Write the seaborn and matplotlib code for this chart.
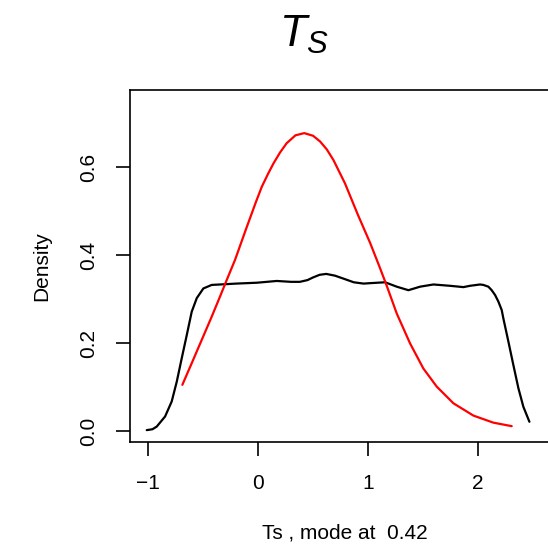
import numpy as np
import pandas as pd
import seaborn as sns
import matplotlib.pyplot as plt

# Black curve: density of Ts
black_x = [-1.012, -0.96, -0.921, -0.845, -0.785, -0.739, -0.694, -0.648, -0.603, -0.557, -0.497,
           -0.421, -0.345, -0.20, -0.01, 0.17, 0.30, 0.38, 0.45, 0.50, 0.56, 0.62, 0.70, 0.78,
           0.87, 0.96, 1.018, 1.155, 1.261, 1.367, 1.473, 1.594, 1.745, 1.867, 1.927, 2.018,
           2.048, 2.094, 2.124, 2.155, 2.185, 2.215, 2.230, 2.276, 2.321, 2.367, 2.412, 2.467]
black_y = [0.002, 0.004, 0.010, 0.033, 0.067, 0.112, 0.165, 0.218, 0.271, 0.302, 0.324,
           0.332, 0.333, 0.335, 0.337, 0.341, 0.339, 0.339, 0.343, 0.349, 0.355, 0.357, 0.353, 0.346,
           0.338, 0.335, 0.336, 0.338, 0.328, 0.320, 0.328, 0.333, 0.330, 0.327, 0.330, 0.333,
           0.332, 0.328, 0.320, 0.309, 0.294, 0.275, 0.256, 0.203, 0.150, 0.097, 0.055, 0.021]

# Red curve: reference density
red_x = [-0.688, -0.603, -0.512, -0.421, -0.345, -0.285, -0.209, -0.112, -0.02, 0.034, 0.09, 0.14,
         0.20, 0.26, 0.34, 0.42, 0.50, 0.564, 0.625, 0.685, 0.79, 0.91, 1.018, 1.10, 1.170, 1.261,
         1.382, 1.503, 1.624, 1.776, 1.958, 2.139, 2.306]
red_y = [0.105, 0.154, 0.207, 0.260, 0.306, 0.343, 0.389, 0.457, 0.520, 0.555, 0.584, 0.608,
         0.633, 0.654, 0.672, 0.677, 0.671, 0.658, 0.640, 0.616, 0.563, 0.490, 0.428, 0.376, 0.330, 0.267,
         0.199, 0.142, 0.101, 0.063, 0.035, 0.019, 0.011]

x_ticks = [-1, 0, 1, 2]
y_ticks = [0.0, 0.2, 0.4, 0.6]
y_tick_labels = ["0.0", "0.2", "0.4", "0.6"]
x_label = "Ts , mode at  0.42"
y_label = "Density"

sns.set_style("white")
plt.rcParams['font.family'] = ['Liberation Sans', 'DejaVu Sans']
plt.rcParams['mathtext.fontset'] = 'custom'
plt.rcParams['mathtext.it'] = 'Liberation Sans:italic'
plt.rcParams['mathtext.rm'] = 'Liberation Sans'
plt.rcParams['text.color'] = 'black'
plt.rcParams['axes.labelcolor'] = 'black'
plt.rcParams['xtick.color'] = 'black'
plt.rcParams['ytick.color'] = 'black'

fig = plt.figure(figsize=(5.48, 5.51), dpi=100)
ax = fig.add_axes([130/548, 109/551, 430/548, 352/551])

df_b = pd.DataFrame({"x": black_x, "y": black_y})
df_r = pd.DataFrame({"x": red_x, "y": red_y})
sns.lineplot(data=df_b, x="x", y="y", ax=ax, color="black", lw=1.6, sort=False)
sns.lineplot(data=df_r, x="x", y="y", ax=ax, color="red", lw=1.6, sort=False)

ax.set_xlim(-1.164, 2.745)
ax.set_ylim(-0.025, 0.775)
ax.set_xticks(x_ticks)
ax.set_yticks(y_ticks)
ax.set_yticklabels(y_tick_labels)
for sp in ax.spines.values():
    sp.set_color("black")
    sp.set_linewidth(1.2)
ax.tick_params(axis='both', direction='out', length=10, width=1.2, color='black',
               labelcolor='black', labelsize=15, pad=13, bottom=True, left=True)
ax.tick_params(axis='y', labelrotation=90)
for lbl in ax.get_yticklabels():
    lbl.set_va('center')
ax.set_xlabel(x_label, fontsize=15, labelpad=22, color='black')
ax.set_ylabel(y_label, fontsize=15, labelpad=20, color='black')

fig.text(304/548, 1 - 47/551, r"$T_S$", ha='center', va='baseline', fontsize=32, color='black')

fig.savefig("out.png", dpi=100)
